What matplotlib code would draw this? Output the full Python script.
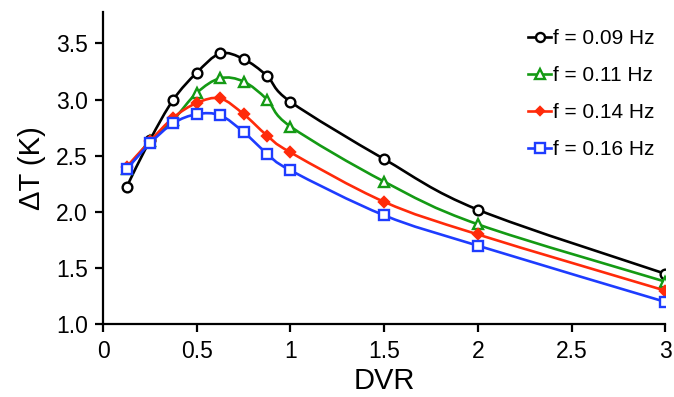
import numpy as np
import matplotlib
matplotlib.use('Agg')
import matplotlib.pyplot as plt
from matplotlib.path import Path
from matplotlib.patches import PathPatch
from matplotlib.lines import Line2D

plt.rcParams['font.family'] = ['Liberation Sans', 'DejaVu Sans']

dvr = [0.125, 0.25, 0.375, 0.5, 0.625, 0.75, 0.875, 1.0, 1.5, 2.0, 3.0]
dt_009 = [2.22, 2.64, 3.00, 3.24, 3.41, 3.36, 3.21, 2.98, 2.47, 2.02, 1.45]
dt_011 = [2.38, 2.63, 2.82, 3.06, 3.19, 3.16, 3.00, 2.76, 2.27, 1.89, 1.38]
dt_014 = [2.40, 2.63, 2.84, 2.97, 3.01, 2.87, 2.68, 2.53, 2.09, 1.80, 1.30]
dt_016 = [2.38, 2.61, 2.79, 2.87, 2.86, 2.71, 2.52, 2.37, 1.97, 1.70, 1.20]
labels = ['f = 0.09 Hz', 'f = 0.11 Hz', 'f = 0.14 Hz', 'f = 0.16 Hz']


def smooth_path(x, y):
    # excel-like smoothed line: catmull-rom converted to cubic beziers
    p = np.column_stack([x, y]).astype(float)
    pp = np.vstack([p[0], p, p[-1]])
    verts = [p[0]]
    codes = [Path.MOVETO]
    for i in range(len(p) - 1):
        p0, p1, p2, p3 = pp[i], pp[i + 1], pp[i + 2], pp[i + 3]
        verts += [p1 + (p2 - p0) / 6, p2 - (p3 - p1) / 6, p2]
        codes += [Path.CURVE4] * 3
    return Path(verts, codes)


fig = plt.figure(figsize=(6.74, 3.97), dpi=100)
ax = fig.add_axes([0.153, 0.183, 0.834, 0.787])

series = [
    (dt_009, 'black', 'o', 'white', 7),
    (dt_011, '#149a14', '^', 'white', 7.5),
    (dt_014, '#ff2a0a', 'D', '#ff2a0a', 5),
    (dt_016, '#1e3cff', 's', 'white', 7),
]

handles = []
for k, (vals, col, mk, fc, ms) in enumerate(series):
    patch = PathPatch(smooth_path(dvr, vals), facecolor='none', edgecolor=col,
                      lw=1.9, zorder=2 + k)
    ax.add_patch(patch)
    ax.plot(dvr, vals, ls='none', marker=mk, ms=ms, mfc=fc, mec=col, mew=1.7,
            zorder=2.5 + k)
    handles.append(Line2D([], [], color=col, lw=1.9, marker=mk, ms=ms - 0.5,
                          mfc=fc, mec=col, mew=1.7))

ax.set_xlim(0, 3)
ax.set_ylim(1.0, 3.78)
ax.set_xticks([0, 0.5, 1, 1.5, 2, 2.5, 3])
ax.set_xticklabels(['0', '0.5', '1', '1.5', '2', '2.5', '3'])
ax.set_yticks([1.0, 1.5, 2.0, 2.5, 3.0, 3.5])
ax.set_yticklabels(['1.0', '1.5', '2.0', '2.5', '3.0', '3.5'])
for s in ['top', 'right']:
    ax.spines[s].set_visible(False)
for s in ['left', 'bottom']:
    ax.spines[s].set_linewidth(1.6)
ax.tick_params(direction='out', length=6, width=1.6, labelsize=16.5, pad=5)

ax.set_xlabel('DVR', fontsize=21, labelpad=3)
ax.set_ylabel('ΔT (K)', fontsize=21, labelpad=7)

ax.legend(handles, labels, loc='upper right', bbox_to_anchor=(1.015, 1.005),
          frameon=False, fontsize=15, handlelength=1.1, handletextpad=0.1,
          labelspacing=0.87, numpoints=1)

fig.savefig('out.png', dpi=100)
